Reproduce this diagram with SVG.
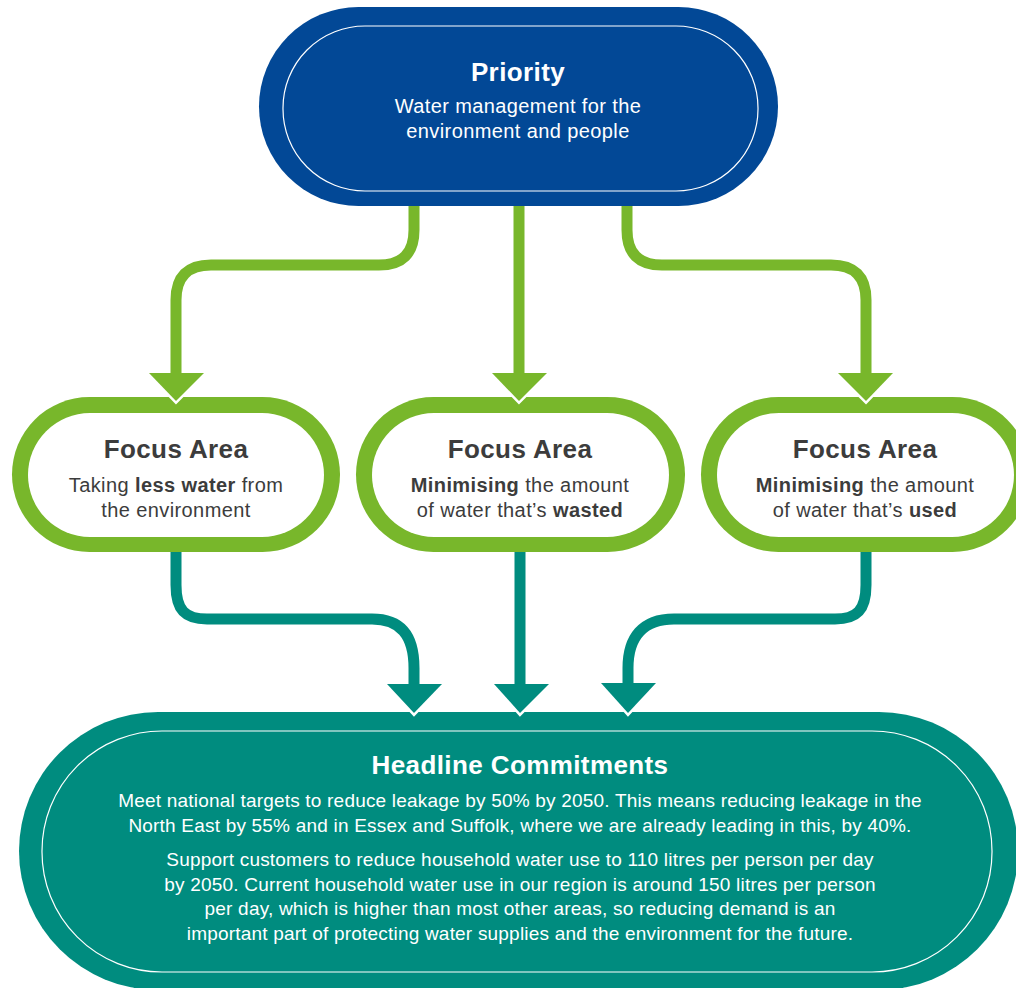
<svg xmlns="http://www.w3.org/2000/svg" width="1016" height="988" viewBox="0 0 1016 988">
<style>
text{font-family:"Liberation Sans",Arial,sans-serif;text-anchor:middle}
.t{font-weight:bold;font-size:26px;letter-spacing:0.4px}
.w{fill:#ffffff}
.d{fill:#3c3c3c}
.b{font-size:20px;letter-spacing:0.4px}
.hb{font-size:19px;letter-spacing:0.2px}
.bb{font-weight:bold}
.gl{fill:none;stroke:#78b72b;stroke-width:11}
.tl{fill:none;stroke:#008c7f;stroke-width:11}
.wv{fill:none;stroke:#ffffff;stroke-width:5;stroke-linejoin:miter}
.ga{fill:#78b72b}
.ta{fill:#008c7f}
</style>
<rect width="1016" height="988" fill="#ffffff"/>
<g id="priority">
<rect x="259" y="7" width="519" height="199" rx="99.5" fill="#024896"/>
<rect x="283" y="26" width="475" height="165" rx="82" fill="none" stroke="#ffffff" stroke-width="1.2"/>
<text class="t w" x="518" y="81">Priority</text>
<text class="b w" x="518" y="113">Water management for the</text>
<text class="b w" x="518" y="138">environment and people</text>
</g>
<g id="focus1">
<rect x="12" y="397" width="328" height="155" rx="77.5" fill="#78b72b"/>
<rect x="28" y="413" width="296" height="124" rx="62" fill="#ffffff"/>
<text class="t d" x="176" y="458">Focus Area</text>
<text class="b d" x="176" y="492">Taking <tspan class="bb">less water</tspan> from</text>
<text class="b d" x="176" y="517">the environment</text>
</g>
<g id="focus2">
<rect x="356" y="397" width="329" height="155" rx="77.5" fill="#78b72b"/>
<rect x="372" y="413" width="297" height="124" rx="62" fill="#ffffff"/>
<text class="t d" x="520" y="458">Focus Area</text>
<text class="b d" x="520" y="492"><tspan class="bb">Minimising</tspan> the amount</text>
<text class="b d" x="520" y="517">of water that’s <tspan class="bb">wasted</tspan></text>
</g>
<g id="focus3">
<rect x="701" y="397" width="329" height="155" rx="77.5" fill="#78b72b"/>
<rect x="717" y="413" width="297" height="124" rx="62" fill="#ffffff"/>
<text class="t d" x="865" y="458">Focus Area</text>
<text class="b d" x="865" y="492"><tspan class="bb">Minimising</tspan> the amount</text>
<text class="b d" x="865" y="517">of water that’s <tspan class="bb">used</tspan></text>
</g>
<g id="headline">
<rect x="19" y="712" width="999" height="278" rx="139" fill="#008c7f"/>
<rect x="42" y="731" width="950" height="241" rx="120" fill="none" stroke="#ffffff" stroke-width="1.2"/>
<text class="t w" x="520" y="774">Headline Commitments</text>
<text class="hb w" x="520" y="807">Meet national targets to reduce leakage by 50% by 2050. This means reducing leakage in the</text>
<text class="hb w" x="520" y="832">North East by 55% and in Essex and Suffolk, where we are already leading in this, by 40%.</text>
<text class="hb w" x="520" y="866">Support customers to reduce household water use to 110 litres per person per day</text>
<text class="hb w" x="520" y="891">by 2050. Current household water use in our region is around 150 litres per person</text>
<text class="hb w" x="520" y="915">per day, which is higher than most other areas, so reducing demand is an</text>
<text class="hb w" x="520" y="940">important part of protecting water supplies and the environment for the future.</text>
</g>
<g id="connectors">
<path class="gl" d="M414,206 V230 Q414,265 379,265 H211 Q176,265 176,300 V375"/>
<path class="gl" d="M519,206 V375"/>
<path class="gl" d="M627,206 V230 Q627,265 662,265 H831 Q866,265 866,300 V375"/>
<polyline class="wv" points="149,373 176,401 204,373"/>
<polygon class="ga" points="149,373 204,373 176,401"/>
<polyline class="wv" points="492,373 519,401 547,373"/>
<polygon class="ga" points="492,373 547,373 519,401"/>
<polyline class="wv" points="838,373 866,401 893,373"/>
<polygon class="ga" points="838,373 893,373 866,401"/>
<path class="tl" d="M176,552 V585 C176,610 185,619 207,619 H372 C400,619 414,635 414,668 V686"/>
<path class="tl" d="M520,552 V686"/>
<path class="tl" d="M866,552 V585 C866,610 857,619 835,619 H674 C642,619 628,638 628,668 V685"/>
<polyline class="wv" points="387,684 414,713 442,684"/>
<polygon class="ta" points="387,684 442,684 414,713"/>
<polyline class="wv" points="494,684 520,713 549,684"/>
<polygon class="ta" points="494,684 549,684 520,713"/>
<polyline class="wv" points="601,683 628,713 656,683"/>
<polygon class="ta" points="601,683 656,683 628,713"/>
</g>
</svg>
